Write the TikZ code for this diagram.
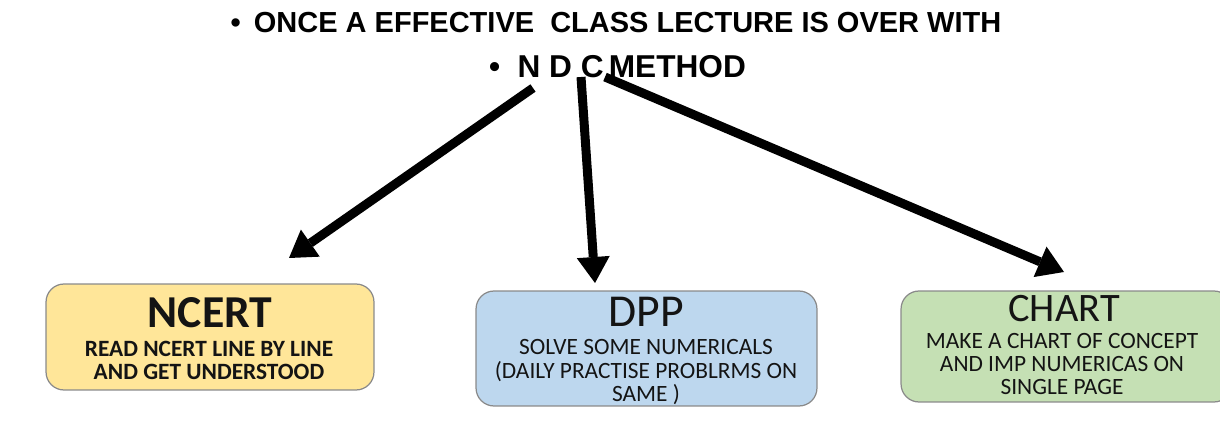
\documentclass[tikz,border=0pt]{standalone}
\usepackage{fontspec}
\setmainfont{Carlito}
\newfontfamily\headfont{Liberation Sans}
\usepackage{xcolor}
\usepackage{tikz}
\usetikzlibrary{arrows.meta}

\definecolor{ncertfill}{HTML}{FFE699}
\definecolor{dppfill}{HTML}{BDD7EE}
\definecolor{chartfill}{HTML}{C5E0B4}
\definecolor{cardedge}{HTML}{8A8A8A}
\definecolor{ink}{HTML}{141414}

\tikzset{
    card/.style={draw=cardedge, line width=0.7pt, rounded corners=0.36cm, inner sep=0pt},
    heading/.style={font=\headfont\bfseries\fontsize{16.5}{18}\selectfont, anchor=base, inner sep=0pt},
    cardtitle/.style={font=\fontsize{26}{28}\selectfont, text=ink, anchor=base, inner sep=0pt},
    cardtext/.style={font=\fontsize{13.3}{14}\selectfont, text=ink, anchor=base, inner sep=0pt},
    pointer/.style={line width=0.18cm, -{Triangle[length=0.52cm, width=0.66cm, line width=0pt]}}
}

\begin{document}
\begin{tikzpicture}[x=0.02cm, y=-0.02cm]
        \path[use as bounding box] (0,0) rectangle (1220,435);
        \clip (0,0) rectangle (1220,435);

        \node[heading] (head1) at (616,33) {•\hspace{0.45em}ONCE A EFFECTIVE \ CLASS LECTURE IS OVER WITH};
        \node[heading, font=\headfont\bfseries\fontsize{18}{20}\selectfont] (head2) at (617.5,78) {•\hspace{0.55em}N D C\,METHOD};

        \node[card, fill=ncertfill, minimum width=6.56cm, minimum height=2.12cm] (ncert) at (210,337) {};
        \node[card, fill=dppfill, minimum width=6.82cm, minimum height=2.30cm] (dpp) at (646.5,348.5) {};
        \node[card, fill=chartfill, minimum width=6.62cm, minimum height=2.22cm] (chart) at (1066.5,346.5) {};

        \node[cardtitle, font=\bfseries\fontsize{26}{28}\selectfont] (ncertT) at (210,328) {NCERT};
        \node[cardtext, font=\bfseries\fontsize{13.3}{14}\selectfont] (ncertA) at (209,357) {READ NCERT LINE BY LINE};
        \node[cardtext, font=\bfseries\fontsize{13.3}{14}\selectfont] (ncertB) at (209,379) {AND GET UNDERSTOOD};

        \node[cardtitle] (dppT) at (646,327) {DPP};
        \node[cardtext] (dppA) at (646,355) {SOLVE SOME NUMERICALS};
        \node[cardtext] (dppB) at (646,378) {(DAILY PRACTISE PROBLRMS ON};
        \node[cardtext] (dppC) at (646,401) {SAME )};

        \node[cardtitle, font=\fontsize{23}{25}\selectfont] (chartT) at (1064,322) {CHART};
        \node[cardtext] (chartA) at (1062,349) {MAKE A CHART OF CONCEPT};
        \node[cardtext] (chartB) at (1062,372) {AND IMP NUMERICAS ON};
        \node[cardtext] (chartC) at (1062,395) {SINGLE PAGE};

        \coordinate (fromN) at (533,88);
        \coordinate (fromD) at (581,77);
        \coordinate (fromC) at (605,77);
        \coordinate (toN) at (289,258);
        \coordinate (toD) at (595,283);
        \coordinate (toC) at (1064,272);

        \draw[pointer] (fromN) -- (toN);
        \draw[pointer] (fromD) -- (toD);
        \draw[pointer] (fromC) -- (toC);
\end{tikzpicture}
\end{document}
